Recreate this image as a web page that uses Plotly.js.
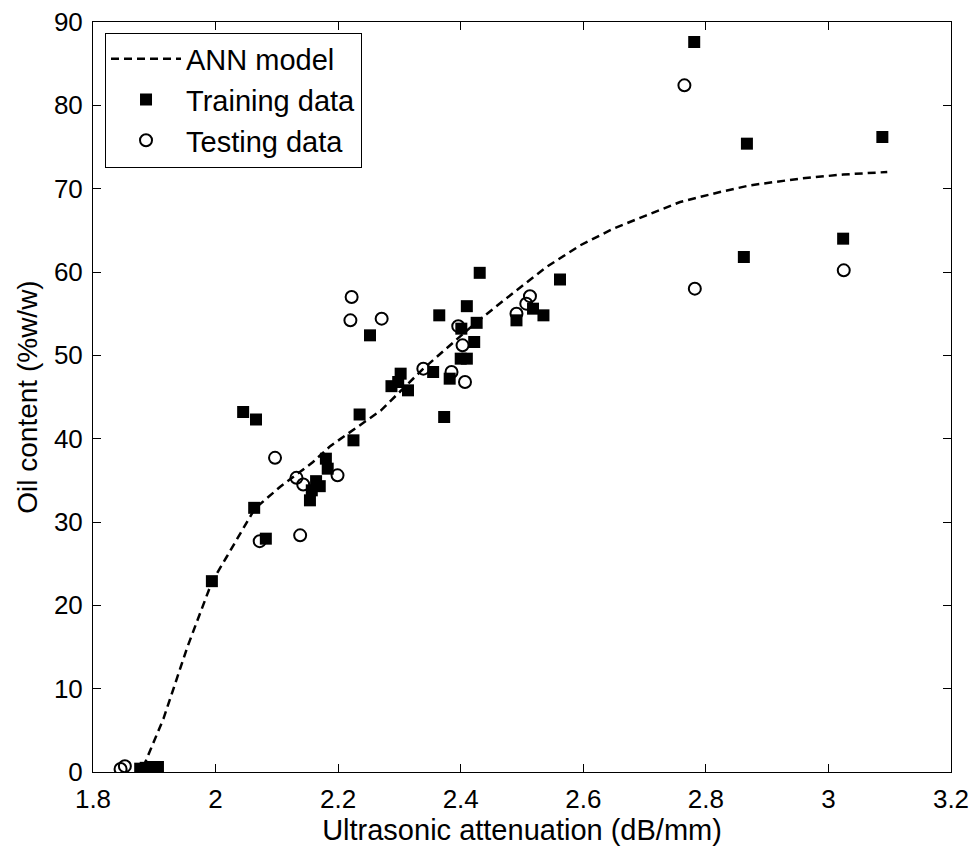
<!DOCTYPE html>
<html>
<head>
<meta charset="utf-8">
<script src="https://cdn.plot.ly/plotly-3.0.1.min.js"></script>
<style>html,body{margin:0;padding:0;background:#fff;}#chart{width:977px;height:846px;}</style>
</head>
<body>
<div id="chart"></div>
<script>
// ANN model curve
const annX = [1.882, 1.915, 1.954, 1.994, 2.018, 2.064, 2.105, 2.159, 2.187, 2.224, 2.27, 2.339, 2.426, 2.491, 2.540, 2.595, 2.649, 2.703, 2.758, 2.823, 2.872, 2.953, 3.024, 3.096];
const annY = [0.6, 6.4, 15.0, 22.8, 25.8, 31.6, 34.2, 37.2, 39.1, 41.0, 43.4, 48.4, 54.0, 57.8, 60.6, 63.2, 65.2, 66.8, 68.4, 69.6, 70.4, 71.2, 71.7, 72.0];

// Training data
const trainX = [1.877, 1.886, 1.896, 1.906, 1.994, 2.045, 2.066, 2.063, 2.082, 2.154, 2.157, 2.164, 2.170, 2.180, 2.183, 2.225, 2.235, 2.252, 2.287, 2.298, 2.302, 2.314, 2.355, 2.365, 2.373, 2.382, 2.400, 2.410, 2.401, 2.410, 2.422, 2.426, 2.431, 2.491, 2.518, 2.535, 2.562, 2.781, 2.867, 2.862, 3.024, 3.088];
const trainY = [0.4, 0.5, 0.6, 0.6, 22.9, 43.2, 42.3, 31.7, 28.0, 32.6, 33.8, 34.9, 34.3, 37.6, 36.4, 39.8, 42.9, 52.4, 46.3, 46.8, 47.8, 45.8, 48.0, 54.8, 42.6, 47.2, 49.6, 49.6, 53.2, 55.9, 51.6, 53.9, 59.9, 54.2, 55.6, 54.8, 59.1, 87.6, 75.4, 61.8, 64.0, 76.2];

// Testing data
const testX = [1.845, 1.852, 2.072, 2.097, 2.132, 2.143, 2.138, 2.199, 2.220, 2.222, 2.271, 2.339, 2.385, 2.396, 2.403, 2.407, 2.491, 2.507, 2.513, 2.765, 2.782, 3.025];
const testY = [0.36, 0.7, 27.7, 37.7, 35.3, 34.5, 28.4, 35.6, 54.2, 57.0, 54.4, 48.4, 48.0, 53.5, 51.2, 46.8, 55.0, 56.2, 57.1, 82.4, 58.0, 60.2];

const FONT = '"Liberation Sans", Arial, sans-serif';

const traces = [
  {x: annX, y: annY, type: 'scatter', mode: 'lines', name: 'ANN model',
   line: {color: '#000', width: 2.5, dash: '8px,5px'}},
  {x: trainX, y: trainY, type: 'scatter', mode: 'markers', name: 'Training data',
   marker: {symbol: 'square', size: 12, color: '#000', line: {width: 0}}},
  {x: testX, y: testY, type: 'scatter', mode: 'markers', name: 'Testing data',
   marker: {symbol: 'circle-open', size: 12, color: '#000', line: {width: 2, color: '#000'}}}
];

const axisCommon = {
  showline: true, linecolor: '#000', linewidth: 1, mirror: 'ticks',
  ticks: 'inside', ticklen: 8, tickwidth: 1, tickcolor: '#000',
  showgrid: false, zeroline: false,
  tickfont: {family: FONT, size: 26, color: '#000'}
};

const layout = {
  width: 977, height: 846,
  margin: {l: 93, r: 26, t: 22, b: 74},
  paper_bgcolor: '#fff', plot_bgcolor: '#fff',
  showlegend: true,
  xaxis: Object.assign({}, axisCommon, {
    range: [1.8, 3.2], dtick: 0.2, tick0: 1.8, ticklabelstandoff: 4,
    title: {text: 'Ultrasonic attenuation (dB/mm)', font: {family: FONT, size: 29, color: '#000'}, standoff: 0}
  }),
  yaxis: Object.assign({}, axisCommon, {
    range: [0, 90], dtick: 10, tick0: 0, ticklabelstandoff: 4,
    title: {text: 'Oil content (%w/w)', font: {family: FONT, size: 28, color: '#000'}, standoff: 8}
  }),
  legend: {
    x: 0.014, y: 0.986, xanchor: 'left', yanchor: 'top',
    bgcolor: '#fff', bordercolor: '#000', borderwidth: 1,
    font: {family: FONT, size: 29, color: '#000'},
    itemwidth: 70, tracegroupgap: 0
  }
};

Plotly.newPlot('chart', traces, layout, {displayModeBar: false, staticPlot: true});
</script>
</body>
</html>
